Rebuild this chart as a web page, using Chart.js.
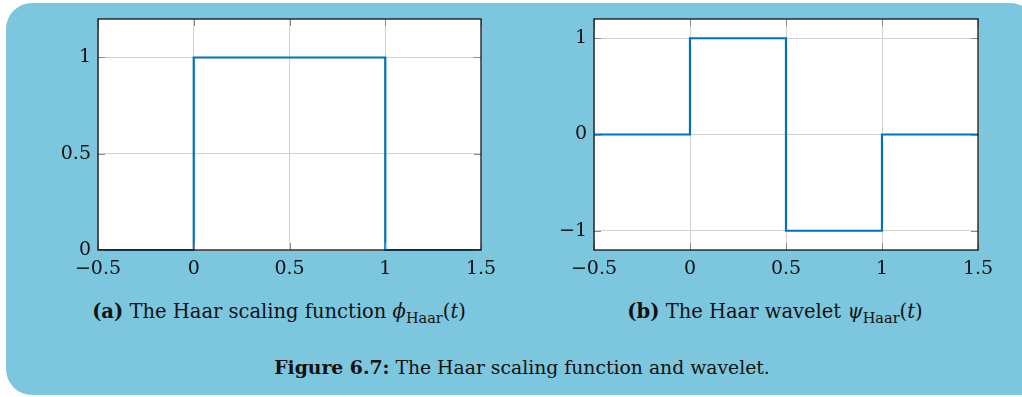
<!DOCTYPE html>
<html>
<head>
<meta charset="utf-8">
<script src="https://cdn.jsdelivr.net/npm/chart.js@4/dist/chart.umd.min.js"></script>
<style>
  html, body { margin: 0; padding: 0; background: #ffffff; }
  body { width: 1022px; height: 397px; position: relative; overflow: hidden; font-family: "DejaVu Serif", serif; }
  .box { position: absolute; left: 6px; top: 3px; width: 1030px; height: 392px; background: #7cc6de; border-radius: 26px 26px 0 26px; }
  .panel { position: absolute; top: 0; }
  .cap { position: absolute; white-space: nowrap; transform: translateX(-50%); font-size: 19.5px; color: #111; }
  .cap sub { font-size: 14.5px; vertical-align: -5px; font-style: normal; }
  .cap i { font-style: italic; }
  .cap.fig { font-size: 18.8px; }
</style>
</head>
<body>
<div class="box"></div>
<div class="panel" style="left:0px;width:511px;height:290px"><canvas id="scaling"></canvas></div>
<div class="panel" style="left:511px;width:511px;height:290px"><canvas id="wavelet"></canvas></div>
<div class="cap" style="left:279px;top:300px"><b>(a)</b> The Haar scaling function <i>ϕ</i><sub>Haar</sub>(<i>t</i>)</div>
<div class="cap" style="left:775px;top:300px"><b>(b)</b> The Haar wavelet <i>ψ</i><sub>Haar</sub>(<i>t</i>)</div>
<div class="cap fig" style="left:522px;top:356px"><b>Figure 6.7:</b> The Haar scaling function and wavelet.</div>

<script>
// breakpoints of the two step functions, value holds until the next breakpoint
const tBreaks = [-0.5, 0, 1, 1.5];
const phiValues = [0, 1, 0, 0];
const tBreaksPsi = [-0.5, 0, 0.5, 1, 1.5];
const psiValues = [0, 1, -1, 0, 0];

const xTicks = [-0.5, 0, 0.5, 1, 1.5];
const phiTicks = [0, 0.5, 1];
const psiTicks = [-1, 0, 1];

const blue = "#0072bd";
const gridGray = "#d0d0d0";
const tickFont = { family: "DejaVu Serif", size: 19 };

function fmt(v) {
  return String(v).replace("-", "\u2212");
}

// white plot area, full frame and short inward ticks on all four sides
const frame = {
  id: "frame",
  beforeDraw(chart) {
    const a = chart.chartArea, ctx = chart.ctx;
    ctx.save();
    ctx.fillStyle = "#ffffff";
    ctx.fillRect(a.left, a.top, a.right - a.left, a.bottom - a.top);
    ctx.restore();
  },
  afterDraw(chart) {
    const a = chart.chartArea, ctx = chart.ctx;
    const len = 7;
    ctx.save();
    ctx.strokeStyle = "#8a8a8a";
    ctx.lineWidth = 1;
    ctx.beginPath();
    chart.scales.x.ticks.forEach(t => {
      const px = Math.round(chart.scales.x.getPixelForValue(t.value)) + 0.5;
      ctx.moveTo(px, a.top); ctx.lineTo(px, a.top + len);
      ctx.moveTo(px, a.bottom); ctx.lineTo(px, a.bottom - len);
    });
    chart.scales.y.ticks.forEach(t => {
      const py = Math.round(chart.scales.y.getPixelForValue(t.value)) + 0.5;
      ctx.moveTo(a.left, py); ctx.lineTo(a.left + len, py);
      ctx.moveTo(a.right, py); ctx.lineTo(a.right - len, py);
    });
    ctx.stroke();
    ctx.strokeStyle = "#111111";
    ctx.lineWidth = 1.3;
    ctx.strokeRect(a.left, a.top, a.right - a.left, a.bottom - a.top);
    ctx.restore();
  }
};

function stepChart(id, xs, ys, yMin, yMax, yTicks, leftWidth, rightPad) {
  const points = xs.map((x, i) => ({ x: x, y: ys[i] }));
  return new Chart(document.getElementById(id), {
    type: "line",
    data: {
      datasets: [{
        data: points,
        stepped: "before",
        borderColor: blue,
        borderWidth: 2.2,
        pointRadius: 0,
        fill: false,
        clip: 4
      }]
    },
    options: {
      responsive: true,
      maintainAspectRatio: false,
      animation: false,
      events: [],
      layout: { padding: { top: 19, right: rightPad, left: 0, bottom: 0 } },
      plugins: { legend: { display: false }, tooltip: { enabled: false } },
      scales: {
        x: {
          type: "linear",
          min: -0.5,
          max: 1.5,
          afterBuildTicks: s => { s.ticks = xTicks.map(v => ({ value: v })); },
          afterFit: s => { s.height = 40; },
          grid: { color: gridGray, drawTicks: false },
          border: { display: false },
          ticks: { color: "#111", font: tickFont, padding: 8, maxRotation: 0, callback: fmt }
        },
        y: {
          type: "linear",
          min: yMin,
          max: yMax,
          afterBuildTicks: s => { s.ticks = yTicks.map(v => ({ value: v })); },
          afterFit: s => { s.width = leftWidth; },
          grid: { color: gridGray, drawTicks: false },
          border: { display: false },
          ticks: { color: "#111", font: tickFont, padding: 7, callback: fmt }
        }
      }
    },
    plugins: [frame]
  });
}

stepChart("scaling", tBreaks, phiValues, 0, 1.2, phiTicks, 98, 30);
stepChart("wavelet", tBreaksPsi, psiValues, -1.2, 1.2, psiTicks, 83, 44);
</script>
</body>
</html>
